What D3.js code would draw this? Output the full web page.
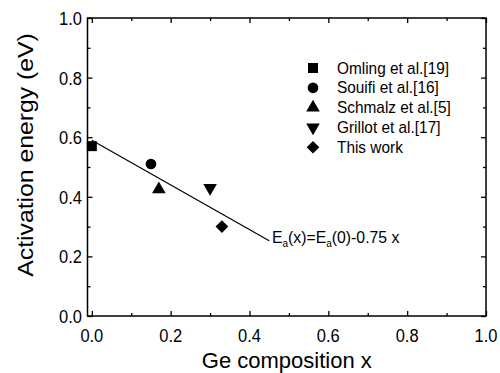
<!DOCTYPE html>
<html>
<head>
<meta charset="utf-8">
<script src="https://cdn.jsdelivr.net/npm/d3@7"></script>
<style>
  html, body { margin: 0; padding: 0; background: #fff; }
  svg { display: block; }
  text { font-family: "Liberation Sans", Arial, Helvetica, sans-serif; fill: #000; }
</style>
</head>
<body>
<svg id="chart" width="500" height="373"></svg>
<script>
// Activation energy vs. Ge composition, literature data and this work
const sources = ["Omling et al.[19]", "Souifi et al.[16]", "Schmalz et al.[5]", "Grillot et al.[17]", "This work"];
const shapes  = ["square", "circle", "triangleUp", "triangleDown", "diamond"];
const geX     = [0.0, 0.15, 0.17, 0.30, 0.33];
const energy  = [0.57, 0.51, 0.425, 0.43, 0.30];

// Linear fit Ea(x) = Ea(0) - 0.75 x
const fitEa0 = 0.59;
const fitSlope = 0.75;
const fitRange = [0.0, 0.45];

const xTicks = [0, 0.2, 0.4, 0.6, 0.8, 1.0];
const xMinor = [0.1, 0.3, 0.5, 0.7, 0.9];
const yTicks = [0, 0.2, 0.4, 0.6, 0.8, 1.0];
const yMinor = [0.1, 0.3, 0.5, 0.7, 0.9];

const svg = d3.select("#chart");
const L = 87.5, R = 486, T = 18, B = 316;
const sy = 1.1; // vertical stretch of the lettering

const x = d3.scaleLinear().domain([-0.011, 1.0]).range([L, R]);
const y = d3.scaleLinear().domain([0, 1]).range([B, T]);

// Frame
svg.append("rect")
  .attr("x", L).attr("y", T).attr("width", R - L).attr("height", B - T)
  .attr("fill", "none").attr("stroke", "#000").attr("stroke-width", 1.5);

// Inward ticks on all four sides
const fmt = d3.format(".1f");
function addAxis(axisFn, scale, tv, size, tr) {
  const g = svg.append("g").attr("transform", tr)
    .call(axisFn(scale).tickValues(tv).tickSize(size).tickPadding(0).tickFormat(""));
  g.select(".domain").remove();
  g.selectAll(".tick line").attr("stroke", "#000").attr("stroke-width", 1.3);
  g.selectAll("text").remove();
  return g;
}
// bottom / top
addAxis(d3.axisTop, x, xTicks, 5, `translate(0,${B})`);
addAxis(d3.axisTop, x, xMinor, 3, `translate(0,${B})`);
addAxis(d3.axisBottom, x, xTicks, 5, `translate(0,${T})`);
addAxis(d3.axisBottom, x, xMinor, 3, `translate(0,${T})`);
// left / right
addAxis(d3.axisRight, y, yTicks, 5, `translate(${L},0)`);
addAxis(d3.axisRight, y, yMinor, 3, `translate(${L},0)`);
addAxis(d3.axisLeft, y, yTicks, 5, `translate(${R},0)`);
addAxis(d3.axisLeft, y, yMinor, 3, `translate(${R},0)`);

// Tick labels
svg.append("g").selectAll("text").data(xTicks).join("text")
  .attr("text-anchor", "middle")
  .attr("font-size", 16.5)
  .attr("transform", d => `translate(${x(d)},${342}) scale(1,${sy})`)
  .text(fmt);
svg.append("g").selectAll("text").data(yTicks).join("text")
  .attr("text-anchor", "end")
  .attr("font-size", 16.5)
  .attr("transform", d => `translate(${82},${y(d) + 7}) scale(1,${sy})`)
  .text(fmt);

// Axis titles
svg.append("text")
  .attr("text-anchor", "middle").attr("font-size", 22)
  .attr("transform", `translate(${(L + R) / 2},${368})`)
  .text("Ge composition x");
svg.append("text")
  .attr("text-anchor", "middle").attr("font-size", 22.5)
  .attr("transform", `translate(${33},${155}) scale(1,${sy}) rotate(-90)`)
  .text("Activation energy (eV)");

// Fit line
const line = d3.line().x(d => x(d)).y(d => y(fitEa0 - fitSlope * d));
svg.append("path")
  .attr("d", line(fitRange))
  .attr("fill", "none").attr("stroke", "#000").attr("stroke-width", 1.2);

// Marker shapes
const symbolFor = {
  square: d3.symbol().type(d3.symbolSquare).size(100),
  circle: d3.symbol().type(d3.symbolCircle).size(90),
  triangleUp: d3.symbol().type(d3.symbolTriangle).size(80),
  triangleDown: d3.symbol().type(d3.symbolTriangle).size(80),
  diamond: d3.symbol().type(d3.symbolSquare).size(80)
};
function placeSymbol(sel, shape, cx, cy) {
  const rot = shape === "triangleDown" ? " rotate(180)" : shape === "diamond" ? " rotate(45)" : "";
  sel.attr("d", symbolFor[shape]())
    .attr("transform", `translate(${cx},${cy})${rot}`)
    .attr("fill", "#000");
}

// Data points
sources.forEach((s, i) => {
  svg.append("path").call(placeSymbol, shapes[i], x(geX[i]), y(energy[i]));
});

// Legend
const legX = 313, legY0 = 68, legStep = 19.8;
sources.forEach((s, i) => {
  const cy = legY0 + i * legStep;
  svg.append("path").call(placeSymbol, shapes[i], legX, cy);
  svg.append("text")
    .attr("font-size", 15.4)
    .attr("transform", `translate(${337},${cy + 5.5}) scale(1,${sy})`)
    .text(s);
});

// Fit equation label
const eq = svg.append("text")
  .attr("font-size", 15.8)
  .attr("transform", `translate(${272},${243}) scale(1,${sy})`);
eq.append("tspan").text("E");
eq.append("tspan").attr("font-size", 10).attr("dy", 4).text("a");
eq.append("tspan").attr("dy", -4).text("(x)=E");
eq.append("tspan").attr("font-size", 10).attr("dy", 4).text("a");
eq.append("tspan").attr("dy", -4).text("(0)-0.75 x");
</script>
</body>
</html>
